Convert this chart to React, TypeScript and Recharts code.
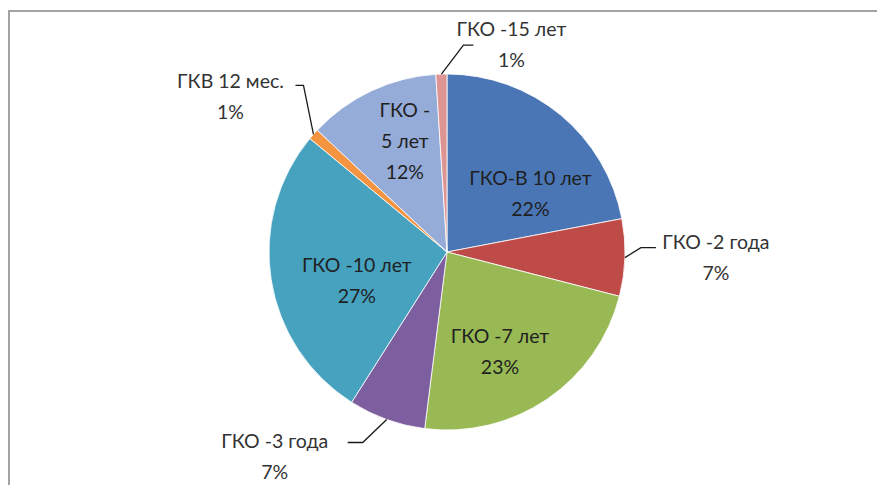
import { PieChart, Pie, Cell } from "recharts";

if (typeof document !== "undefined") document.body.style.margin = "0";

// Структура портфеля по видам бумаг, в процентах (по часовой стрелке от 12 часов)
const names = [
  "ГКО-В 10 лет",
  "ГКО -2 года",
  "ГКО -7 лет",
  "ГКО -3 года",
  "ГКО -10 лет",
  "ГКВ 12 мес.",
  "ГКО -\n5 лет",
  "ГКО -15 лет",
];
const shares = [22, 7, 23, 7, 27, 1, 12, 1];
const colors = [
  "#4A76B5",
  "#BE4B48",
  "#98B954",
  "#7D5FA0",
  "#46A2BF",
  "#F59440",
  "#95ABD8",
  "#DC9592",
];

const data = names.map((name, i) => ({ name, value: shares[i] }));

const FONT = "Lato, 'Open Sans', sans-serif";
const FONT_SIZE = 19.5;
const LINE = 31;
const RAD = Math.PI / 180;

type Inside = { kind: "in"; rf: number; angle: number };
type Outside = { kind: "out"; elbow: [number, number]; run: number; textDx: number; textDy: number };

// где ставить подписи: внутри сектора (полярные координаты) или снаружи с выноской
const labelLayout: Record<string, Inside | Outside> = {
  "ГКО-В 10 лет": { kind: "in", rf: 0.575, angle: 35.4 },
  "ГКО -2 года": { kind: "out", elbow: [16, -10], run: 15, textDx: 60, textDy: -7 },
  "ГКО -7 лет": { kind: "in", rf: 0.63, angle: -61.8 },
  "ГКО -3 года": { kind: "out", elbow: [-24, 23], run: -15, textDx: -73, textDy: -2 },
  "ГКО -10 лет": { kind: "in", rf: 0.53, angle: 197 },
  "ГКВ 12 мес.": { kind: "out", elbow: [-10, -49], run: -8, textDx: -65, textDy: -5 },
  "ГКО -\n5 лет": { kind: "in", rf: 0.67, angle: 110.7 },
  "ГКО -15 лет": { kind: "out", elbow: [22, -29], run: 10, textDx: 38, textDy: -17 },
};

const renderLabel = (props: any) => {
  const { cx, cy, midAngle, outerRadius, name, value } = props;
  const layout = labelLayout[name];
  const lines = [...String(name).split("\n"), `${value}%`];
  if (!layout) return null;

  if (layout.kind === "in") {
    const r = outerRadius * layout.rf;
    const x = cx + r * Math.cos(layout.angle * RAD);
    const yMid = cy - r * Math.sin(layout.angle * RAD);
    const y0 = yMid - ((lines.length - 1) * LINE) / 2;
    return (
      <text x={x} y={y0} textAnchor="middle" dominantBaseline="central" fill="#1f1f1f" fontFamily={FONT} fontSize={FONT_SIZE}>
        {lines.map((t, i) => (
          <tspan key={i} x={x} y={y0 + i * LINE}>
            {t}
          </tspan>
        ))}
      </text>
    );
  }

  const sx = cx + outerRadius * Math.cos(-midAngle * RAD);
  const sy = cy + outerRadius * Math.sin(-midAngle * RAD);
  const ex = sx + layout.elbow[0];
  const ey = sy + layout.elbow[1];
  const hx = ex + layout.run;
  const tx = hx + layout.textDx;
  const ty = ey + layout.textDy;
  return (
    <g>
      <polyline points={`${sx},${sy} ${ex},${ey} ${hx},${ey}`} fill="none" stroke="#1a1a1a" strokeWidth={1.3} />
      <text x={tx} y={ty} textAnchor="middle" dominantBaseline="central" fill="#333333" fontFamily={FONT} fontSize={FONT_SIZE}>
        {lines.map((t, i) => (
          <tspan key={i} x={tx} y={ty + i * LINE}>
            {t}
          </tspan>
        ))}
      </text>
    </g>
  );
};

export default function App() {
  return (
    <div style={{ position: "relative", width: 877, height: 485, background: "#fff", overflow: "hidden" }}>
      <div
        style={{
          position: "absolute",
          left: 8,
          top: 10,
          width: 900,
          height: 500,
          borderLeft: "2px solid #a3a3a3",
          borderTop: "2px solid #a3a3a3",
        }}
      />
      <PieChart
        width={877}
        height={485}
        margin={{ top: 0, right: 0, bottom: 0, left: 0 }}
        style={{ position: "absolute", left: 0, top: 0 }}
      >
        <Pie
          data={data}
          dataKey="value"
          nameKey="name"
          cx={447}
          cy={252}
          outerRadius={178}
          startAngle={90}
          endAngle={-270}
          stroke="#ffffff"
          strokeWidth={0.8}
          label={renderLabel}
          labelLine={false}
          isAnimationActive={false}
        >
          {data.map((d, i) => (
            <Cell key={d.name} fill={colors[i]} />
          ))}
        </Pie>
      </PieChart>
    </div>
  );
}
